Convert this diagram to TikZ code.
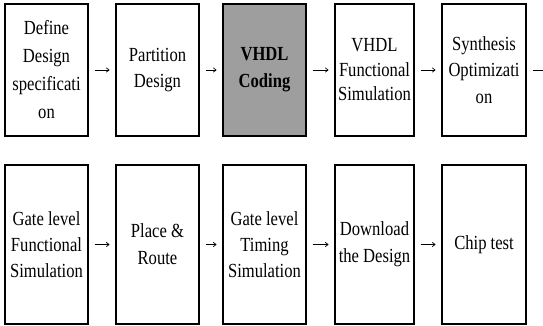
\documentclass[tikz,border=0pt]{standalone}
\usepackage{fontspec}
\newfontfamily\tfont[FakeStretch=0.83]{Liberation Serif}
\usetikzlibrary{arrows.meta}
\begin{document}
\begin{tikzpicture}[x=1pt,y=-1pt,
  box/.style={draw=black,line width=1.1pt,rectangle,minimum width=83pt,inner sep=0pt,align=center,
    font=\tfont\fontsize{20}{26}\selectfont},
  toprow/.style={box,minimum height=132pt},
  botrow/.style={box,minimum height=159pt},
  arr/.style={line width=0.7pt,-{To[length=3.5pt,width=5pt]},shorten <=6pt,shorten >=6pt}]
\useasboundingbox (0,0) rectangle (543,326);
% top row
\node[toprow,font=\tfont\fontsize{20}{28}\selectfont] (t1) at (46.5,70) {Define\\Design\\specificati\\on};
\node[toprow] (t2) at (157.5,70) {Partition\\Design};
\node[toprow,fill=black!38,font=\tfont\bfseries\fontsize{20}{27}\selectfont] (t3) at (264.5,70) {VHDL\\Coding};
\node[toprow,minimum width=79pt,font=\tfont\fontsize{20}{24.5}\selectfont] (t4) at (374.5,70) {VHDL\\Functional\\Simulation};
\node[toprow,minimum width=84pt,font=\tfont\fontsize{20}{26.5}\selectfont] (t5) at (484,70) {Synthesis\\Optimizati\\on};
\coordinate (tend) at (552,70);
% bottom row
\node[botrow] (b1) at (46.5,244.5) {Gate level\\Functional\\Simulation};
\node[botrow,font=\tfont\fontsize{20}{27}\selectfont] (b2) at (157.5,244.5) {Place \&\\Route};
\node[botrow] (b3) at (264.5,244.5) {Gate level\\Timing\\Simulation};
\node[botrow,minimum width=79pt,font=\tfont\fontsize{20}{27}\selectfont] (b4) at (374.5,244.5) {Download\\the Design};
\node[botrow,minimum width=84pt] (b5) at (484,244.5) {Chip test};
% arrows
\draw[arr] (t1) -- (t2);
\draw[arr] (t2) -- (t3);
\draw[arr] (t3) -- (t4);
\draw[arr] (t4) -- (t5);
\draw[arr,shorten >=0pt] (t5) -- (tend);
\draw[arr] (b1) -- (b2);
\draw[arr] (b2) -- (b3);
\draw[arr] (b3) -- (b4);
\draw[arr] (b4) -- (b5);
\end{tikzpicture}
\end{document}
